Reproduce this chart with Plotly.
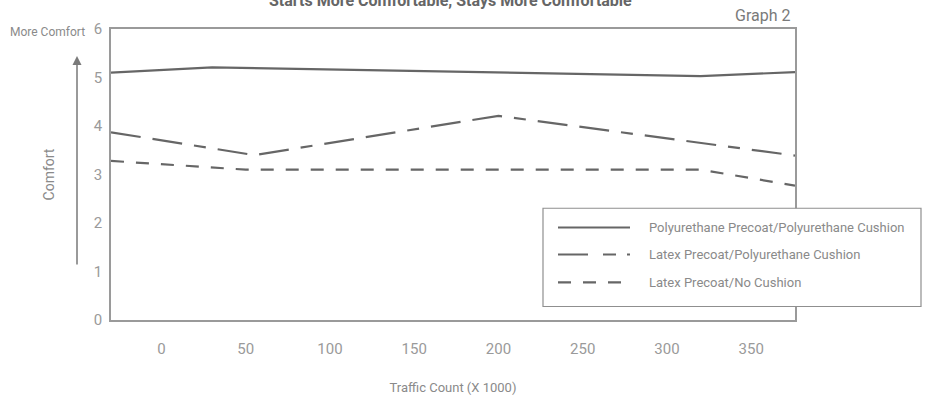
import plotly.graph_objects as go

# ---------------- data ----------------
series_names = [
    "Polyurethane Precoat/Polyurethane Cushion",
    "Latex Precoat/Polyurethane Cushion",
    "Latex Precoat/No Cushion",
]
traffic_pu = [-30, 30, 320, 376]
comfort_pu = [5.10, 5.21, 5.03, 5.11]

traffic_lpu = [-30, 55, 200, 376]
comfort_lpu = [3.87, 3.40, 4.21, 3.39]

traffic_lnc = [-30, 50, 320, 376]
comfort_lnc = [3.28, 3.10, 3.10, 2.77]

x_ticks = [0, 50, 100, 150, 200, 250, 300, 350]
y_ticks = [0, 1, 2, 3, 4, 5, 6]

title_text = "Starts More Comfortable, Stays More Comfortable"
graph_label = "Graph 2"
x_title = "Traffic Count (X 1000)"
y_title = "Comfort"
more_label = "More Comfort"

# ---------------- style ----------------
W, H = 925, 405
ML, MR, MT, MB = 111, 130, 29, 74
PW, PH = W - ML - MR, H - MT - MB
LINE_COL = "#666666"
AXIS_COL = "#9a9a9a"
TXT_COL = "#8a8a8a"
FONT = "Roboto, Arial, sans-serif"
dashes = ["solid", "30px,12px,30px,12px,12px,12px", "13px,12px"]
legend_dashes = ["solid", "30px,15px,13px,11px,3px,100px", "13px,12px"]


def px_x(p):
    return (p - ML) / PW


def px_y(p):
    return (MT + PH - p) / PH


fig = go.Figure()
for xs, ys, name, dash in [
    (traffic_pu, comfort_pu, series_names[0], dashes[0]),
    (traffic_lpu, comfort_lpu, series_names[1], dashes[1]),
    (traffic_lnc, comfort_lnc, series_names[2], dashes[2]),
]:
    fig.add_trace(go.Scatter(
        x=xs, y=ys, mode="lines", name=name,
        line=dict(color=LINE_COL, width=2.2, dash=dash),
        showlegend=False, hoverinfo="x+y+name",
    ))

axis_common = dict(
    showgrid=False, zeroline=False, showline=True, linecolor=AXIS_COL,
    linewidth=1.5, mirror=True,
    tickfont=dict(family=FONT, size=15, color="#9a9a9a"),
)

fig.update_xaxes(
    range=[-30, 376], tickvals=x_ticks, ticks="outside", ticklen=14,
    tickcolor="rgba(0,0,0,0)",
    title=dict(text=x_title, font=dict(family=FONT, size=13, color=TXT_COL),
               standoff=26),
    **axis_common,
)
fig.update_yaxes(
    range=[0, 6], tickvals=y_ticks, ticks="outside", ticklen=4,
    tickcolor="rgba(0,0,0,0)",
    title=dict(text=y_title, font=dict(family=FONT, size=14, color=TXT_COL),
               standoff=36),
    **axis_common,
)

shapes = []
annotations = []

# manual legend box
shapes.append(dict(type="rect", xref="paper", yref="paper",
                   x0=px_x(543), x1=px_x(921), y0=px_y(317), y1=px_y(215),
                   fillcolor="white", line=dict(color="#8f8f8f", width=1.2),
                   layer="above"))
row_y = [235, 263, 292]
for name, dash, ry in zip(series_names, legend_dashes, row_y):
    shapes.append(dict(type="line", xref="paper", yref="paper",
                       x0=px_x(558), x1=px_x(630), y0=px_y(ry), y1=px_y(ry),
                       line=dict(color=LINE_COL, width=2.2, dash=dash),
                       layer="above"))
    annotations.append(dict(text=name, xref="paper", yref="paper",
                            x=px_x(647), y=px_y(ry), xanchor="left",
                            yanchor="middle", showarrow=False,
                            font=dict(family=FONT, size=13, color=TXT_COL)))

# title (partly cut off at top, as in the reference)
annotations.append(dict(text="<b>" + title_text + "</b>", xref="paper", yref="paper",
                        x=px_x(450), y=px_y(-1), xanchor="center", yanchor="middle",
                        showarrow=False,
                        font=dict(family=FONT, size=16, color="#666666")))
annotations.append(dict(text=graph_label, xref="paper", yref="paper",
                        x=px_x(792), y=px_y(15), xanchor="right", yanchor="middle",
                        showarrow=False,
                        font=dict(family=FONT, size=16, color="#7a7a7a")))
annotations.append(dict(text=more_label, xref="paper", yref="paper",
                        x=px_x(87), y=px_y(32), xanchor="right", yanchor="middle",
                        showarrow=False,
                        font=dict(family=FONT, size=12, color=TXT_COL)))
# upward arrow
annotations.append(dict(text="", xref="paper", yref="paper",
                        x=px_x(77), y=px_y(57), ax=0, ay=210,
                        showarrow=True, arrowhead=2, arrowsize=1.2,
                        arrowwidth=1.5, arrowcolor="#7a7a7a"))

fig.update_layout(
    width=W, height=H,
    margin=dict(l=ML, r=MR, t=MT, b=MB),
    paper_bgcolor="white", plot_bgcolor="white",
    shapes=shapes, annotations=annotations,
    showlegend=False,
)

fig.write_html(
    "out.html",
    config={"displayModeBar": False},
    post_script=(
        "document.body.style.margin='0';"
        "document.documentElement.style.overflow='hidden';"
        "document.body.style.overflow='hidden';"
        "var d=document.getElementById('{plot_id}');"
        "d.style.position='fixed';d.style.top='0';d.style.left='0';"
    ),
)
